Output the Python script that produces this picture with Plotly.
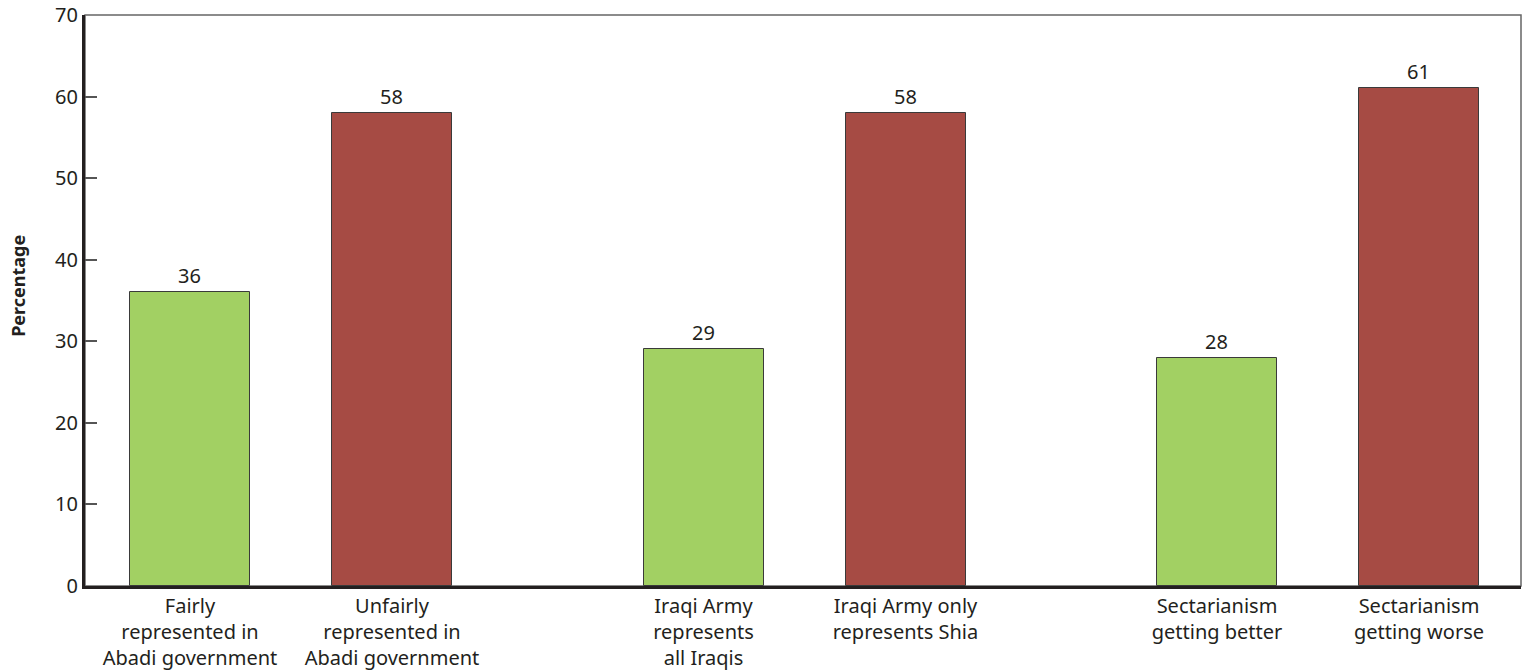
import plotly.graph_objects as go

categories = [
    "Fairly<br>represented in<br>Abadi government",
    "Unfairly<br>represented in<br>Abadi government",
    "Iraqi Army<br>represents<br>all Iraqis",
    "Iraqi Army only<br>represents Shia",
    "Sectarianism<br>getting better",
    "Sectarianism<br>getting worse",
]
values = [36, 58, 29, 58, 28, 61]
group_index = [0, 0, 1, 1, 2, 2]
sub_index = [0, 1, 0, 1, 0, 1]
bar_colors = ["#a2d063", "#a64b44", "#a2d063", "#a64b44", "#a2d063", "#a64b44"]

y_ticks = [0, 10, 20, 30, 40, 50, 60, 70]
y_title = "Percentage"

# layout parameters (axis units)
first_center = 105
group_pitch = 513.5
pair_offset = 202
bar_width = 120
x_positions = [first_center + g * group_pitch + s * pair_offset for g, s in zip(group_index, sub_index)]

FONT = "Noto Sans"
TXT = "#231f20"

fig = go.Figure()
fig.add_trace(go.Bar(
    x=x_positions,
    y=values,
    width=bar_width,
    marker=dict(color=bar_colors, line=dict(color="#3a3a3a", width=1)),
    text=[str(v) for v in values],
    textposition="outside",
    textfont=dict(family=FONT, size=20, color=TXT),
    cliponaxis=False,
    hoverinfo="skip",
))

fig.update_layout(
    width=1523, height=670,
    margin=dict(l=85, r=2, t=15, b=84),
    paper_bgcolor="white", plot_bgcolor="white",
    showlegend=False,
    font=dict(family=FONT, size=20, color=TXT),
    xaxis=dict(
        range=[0, 1436],
        tickvals=x_positions,
        ticktext=categories,
        showgrid=False, zeroline=False, automargin=False,
        showline=True, linecolor="#231f20", linewidth=3,
        ticks="", tickfont=dict(family=FONT, size=20, color=TXT),
    ),
    yaxis=dict(
        range=[0, 70],
        tickvals=y_ticks,
        showgrid=False, zeroline=False, automargin=False,
        showline=True, linecolor="#231f20", linewidth=3,
        ticks="inside", ticklen=12, tickwidth=1.5, tickcolor="#555555",
        tickfont=dict(family=FONT, size=20, color=TXT),
    ),
    bargap=0,
)

fig.add_annotation(
    text="<b>" + y_title + "</b>", textangle=-90,
    xref="paper", x=0, xanchor="center", xshift=-67,
    yref="y", y=36.8, yanchor="middle",
    showarrow=False, font=dict(family=FONT, size=18, color=TXT),
)

fig.add_shape(
    type="rect", xref="paper", yref="paper", x0=0, y0=0, x1=1, y1=1,
    line=dict(color="#666666", width=1.5), layer="below",
)

fig.write_html("out.html")
